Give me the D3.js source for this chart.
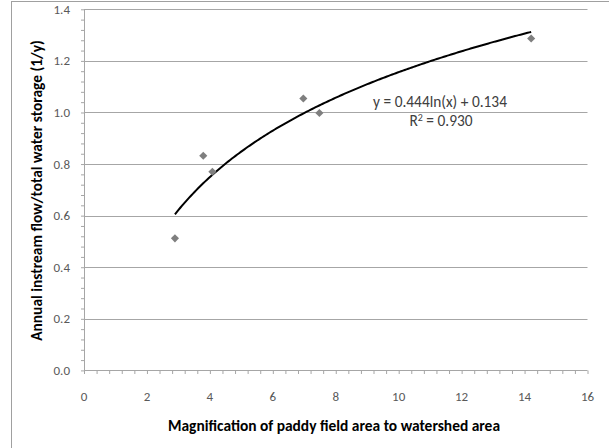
<!DOCTYPE html>
<html>
<head>
<meta charset="utf-8">
<script src="https://cdn.jsdelivr.net/npm/d3@7"></script>
<style>
  html, body { margin: 0; padding: 0; background: #fff; }
  svg { display: block; }
</style>
</head>
<body>
<svg id="chart" width="609" height="448"></svg>
<script>
// Observed watersheds: paddy field magnification vs. annual flow ratio
const magnification = [2.89, 3.79, 4.08, 6.97, 7.48, 14.21];
const flowRatio     = [0.512, 0.832, 0.770, 1.054, 0.998, 1.287];

// Logarithmic trend fit: y = a ln(x) + b
const fitA = 0.444;
const fitB = 0.134;
const fitR2 = 0.930;

const xTicks = [0, 2, 4, 6, 8, 10, 12, 14, 16];
const yTicks = [0.0, 0.2, 0.4, 0.6, 0.8, 1.0, 1.2, 1.4];

const svg = d3.select("#chart");
const W = 609, H = 448;
const plot = { left: 84, right: 587.5, top: 9.3, bottom: 370.4 };
const fontMain = "Carlito, Calibri, 'Liberation Sans Narrow', 'Liberation Sans', Arial, sans-serif";
const gridColor = "#a6a6a6";
const labelColor = "#595959";

// scale a text element's font so its rendered width equals `width`
function fitWidth(sel, width) {
  const fs = parseFloat(sel.attr("font-size"));
  const w = sel.node().getComputedTextLength();
  if (w > 0) sel.attr("font-size", (fs * width / w).toFixed(2));
  return sel;
}

// outer chart frame
svg.append("rect")
  .attr("x", 11.5).attr("y", 1.5)
  .attr("width", W + 10).attr("height", H + 10)
  .attr("fill", "#fff").attr("stroke", "#a0a0a0").attr("stroke-width", 1);

const x = d3.scaleLinear().domain([0, 16]).range([plot.left, plot.right]);
const y = d3.scaleLinear().domain([0, 1.4]).range([plot.bottom, plot.top]);

// horizontal gridlines
svg.append("g")
  .selectAll("line")
  .data(yTicks.filter(d => d > 0))
  .join("line")
  .attr("x1", plot.left).attr("x2", plot.right)
  .attr("y1", d => Math.round(y(d)) + 0.5).attr("y2", d => Math.round(y(d)) + 0.5)
  .attr("stroke", gridColor).attr("stroke-width", 1);

// y axis with major + minor ticks
const yAxisG = svg.append("g").attr("transform", `translate(${plot.left + 0.5},0)`);
yAxisG.call(d3.axisLeft(y).tickValues(d3.range(0, 1.4001, 0.04)).tickSize(3.5).tickFormat(""));
yAxisG.selectAll("path, line").attr("stroke", gridColor);
yAxisG.select(".domain").attr("d", `M0,${plot.top}V${plot.bottom}`);
svg.append("g")
  .selectAll("text")
  .data(yTicks)
  .join("text")
  .attr("x", 70).attr("y", d => y(d))
  .attr("dy", "0.35em")
  .attr("text-anchor", "end")
  .attr("font-family", fontMain).attr("font-size", 13)
  .attr("fill", labelColor)
  .text(d => d3.format(".1f")(d));

// x axis with major + minor ticks
const xAxisG = svg.append("g").attr("transform", `translate(0,${Math.round(plot.bottom) + 0.5})`);
xAxisG.call(d3.axisBottom(x).tickValues(d3.range(0, 16.001, 0.4)).tickSize(3.5).tickFormat(""));
xAxisG.selectAll("path, line").attr("stroke", gridColor);
xAxisG.select(".domain").attr("d", `M${plot.left},0H${plot.right}`);
svg.append("g")
  .selectAll("text")
  .data(xTicks)
  .join("text")
  .attr("x", d => x(d)).attr("y", 396.5)
  .attr("dy", "0.35em")
  .attr("text-anchor", "middle")
  .attr("font-family", fontMain).attr("font-size", 13)
  .attr("fill", labelColor)
  .text(d => d);

// trend curve across the observed range
const xMin = d3.min(magnification), xMax = d3.max(magnification);
const curveX = d3.range(0, 201).map(i => xMin + (xMax - xMin) * i / 200);
svg.append("path")
  .datum(curveX)
  .attr("fill", "none").attr("stroke", "#000").attr("stroke-width", 2)
  .attr("d", d3.line().x(d => x(d)).y(d => y(fitA * Math.log(d) + fitB)));

// data points as diamonds
const pts = magnification.map((m, i) => ({ m, v: flowRatio[i] }));
svg.append("g")
  .selectAll("path")
  .data(pts)
  .join("path")
  .attr("transform", d => `translate(${x(d.m)},${y(d.v)})`)
  .attr("d", d3.symbol(d3.symbolDiamond2, 42))
  .attr("fill", "#7f7f7f");

// equation + R² annotation
const eq = svg.append("text")
  .attr("x", 440).attr("y", 107)
  .attr("text-anchor", "middle")
  .attr("font-family", fontMain).attr("font-size", 15)
  .attr("fill", "#404040")
  .text(`y = ${fitA.toFixed(3)}ln(x) + ${fitB.toFixed(3)}`);
fitWidth(eq, 134);
const eqSize = eq.attr("font-size");
const r2 = svg.append("text")
  .attr("x", 441).attr("y", 126)
  .attr("text-anchor", "middle")
  .attr("font-family", fontMain).attr("font-size", eqSize)
  .attr("fill", "#404040");
r2.append("tspan").text("R");
r2.append("tspan").attr("dy", -5.5).attr("font-size", eqSize * 0.65).text("2");
r2.append("tspan").attr("dy", 5.5).text(` = ${fitR2.toFixed(3)}`);

// axis titles
const xTitle = svg.append("text")
  .attr("x", 334).attr("y", 430.5)
  .attr("text-anchor", "middle")
  .attr("font-family", fontMain).attr("font-size", 15).attr("font-weight", "bold")
  .attr("fill", "#000")
  .text("Magnification of paddy field area to watershed area");
fitWidth(xTitle, 332);
const yTitle = svg.append("text")
  .attr("transform", "translate(41.5,190.5) rotate(-90)")
  .attr("text-anchor", "middle")
  .attr("font-family", fontMain).attr("font-size", xTitle.attr("font-size")).attr("font-weight", "bold")
  .attr("fill", "#000")
  .text("Annual instream flow/total water storage (1/y)");
</script>
</body>
</html>
